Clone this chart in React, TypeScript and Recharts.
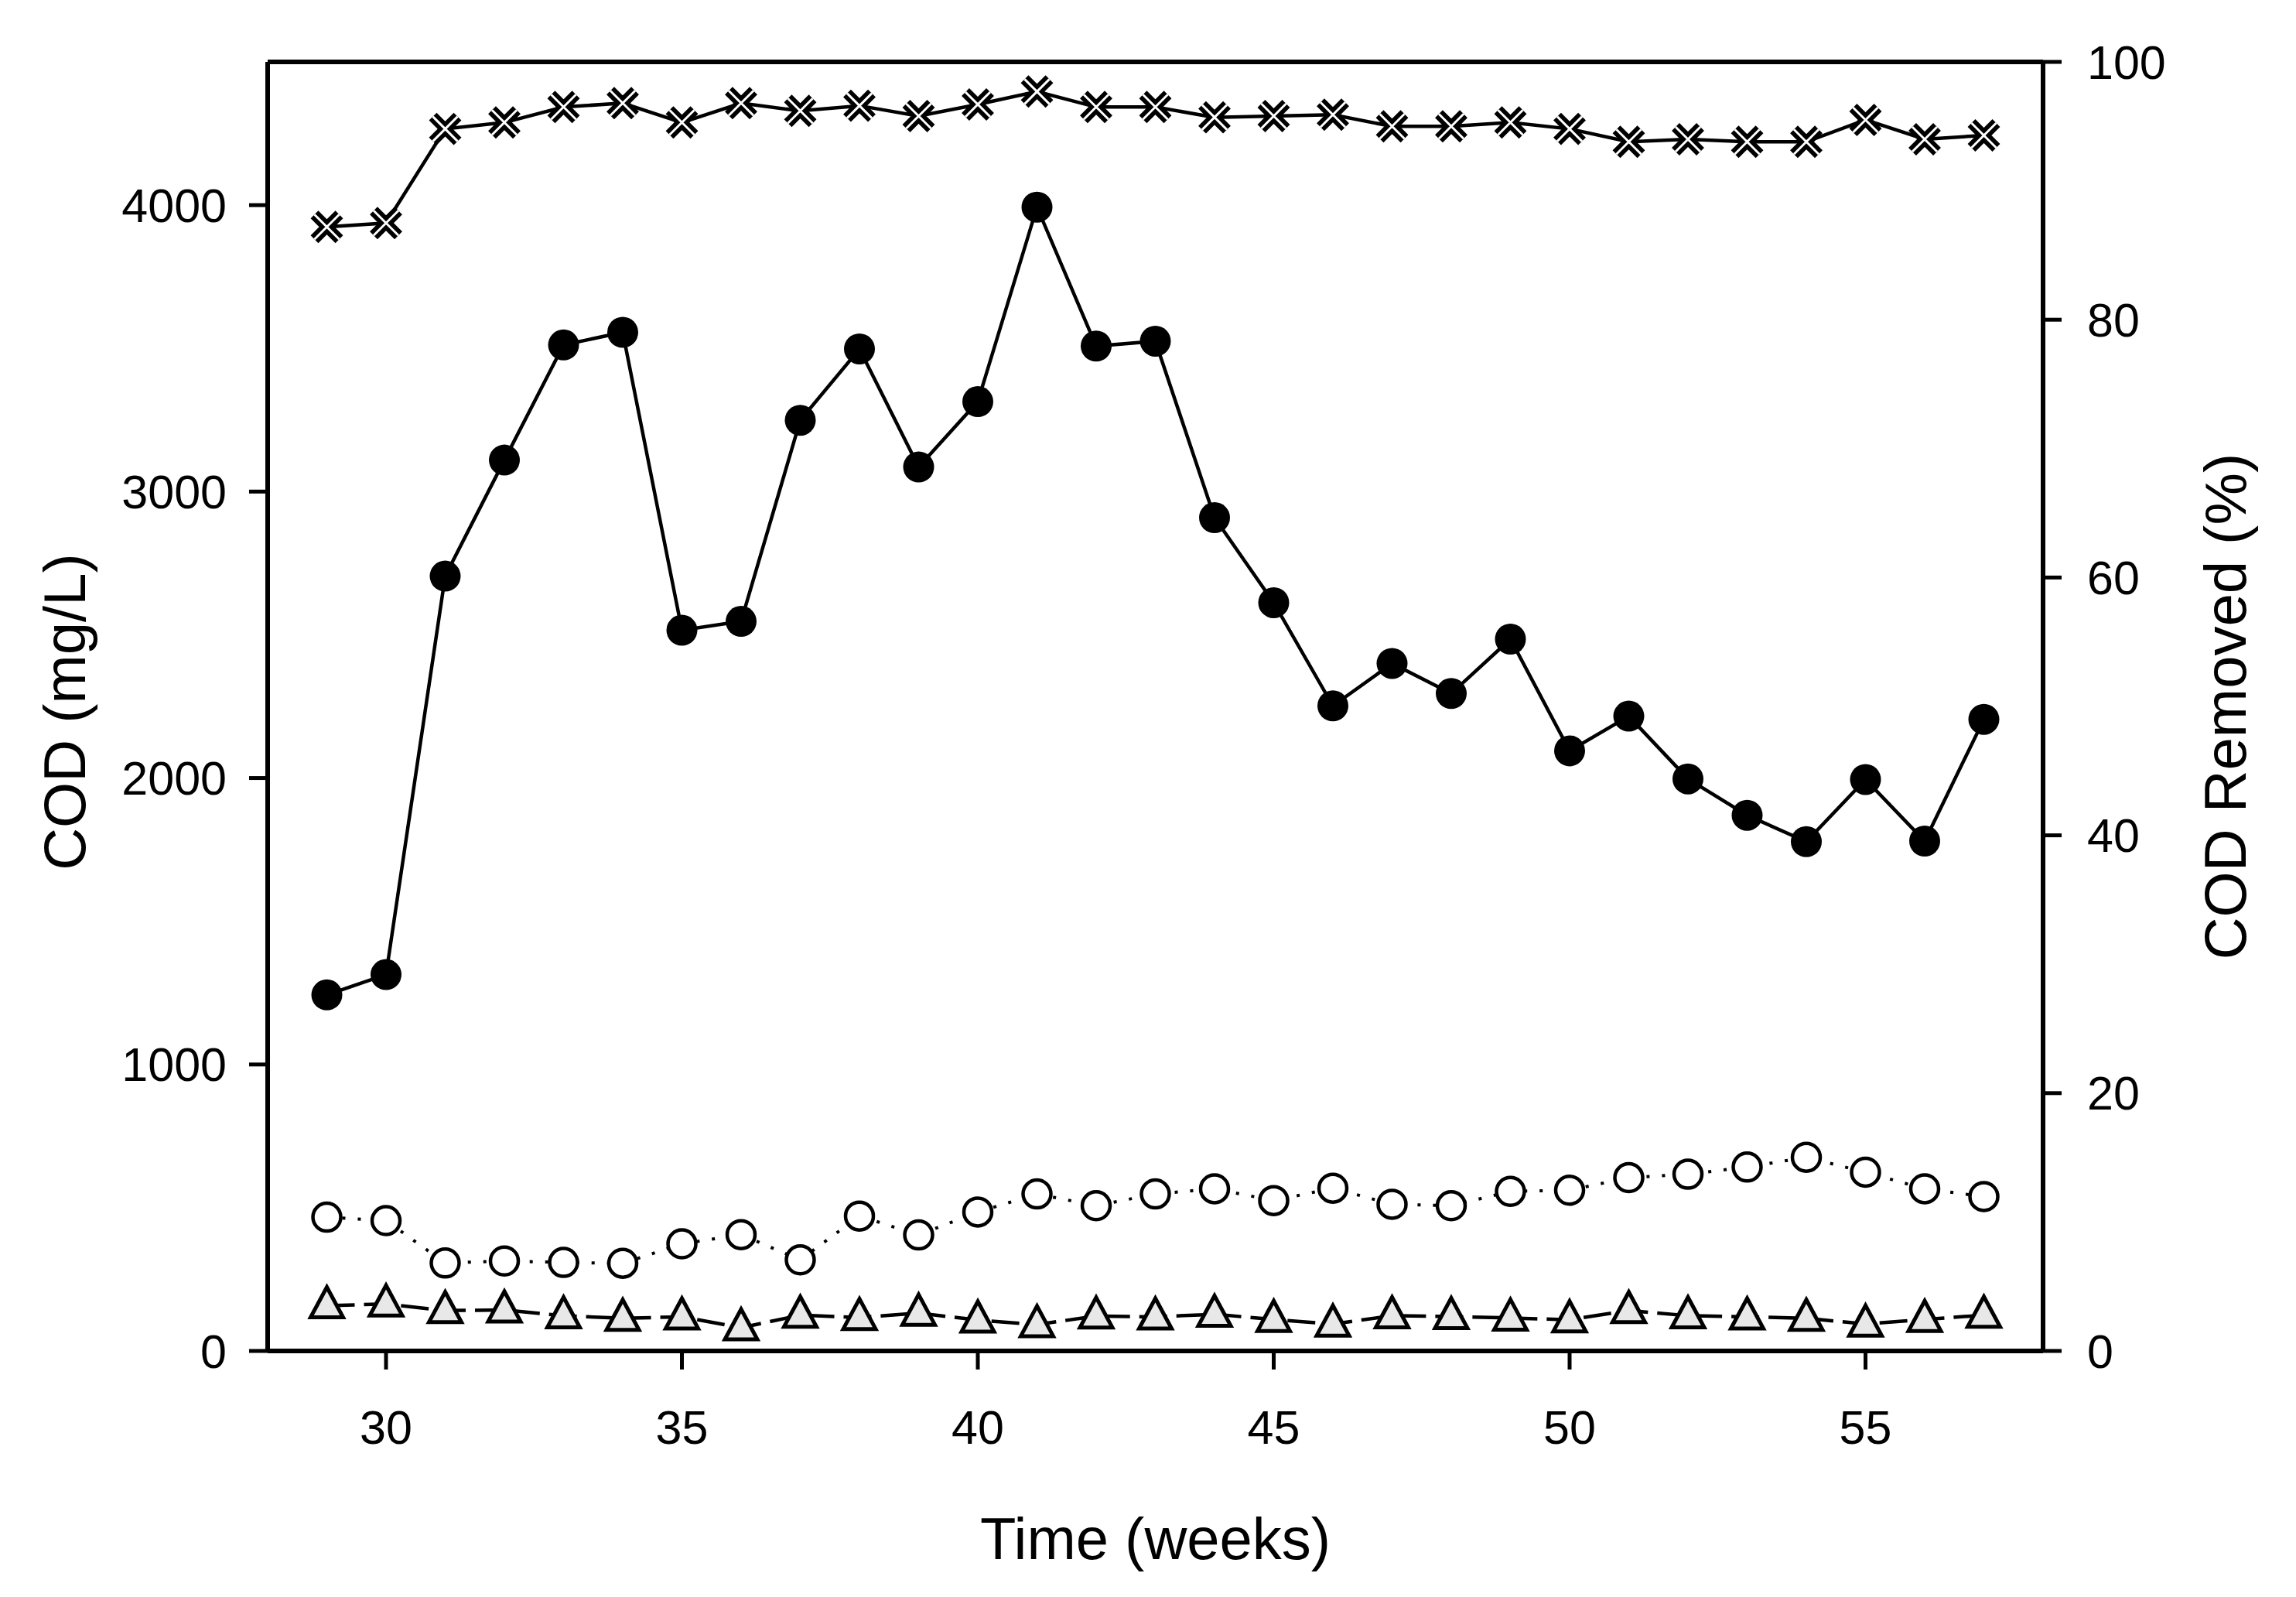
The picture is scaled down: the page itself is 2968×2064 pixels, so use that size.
import React from 'react';
import { LineChart, Line, XAxis, YAxis, ReferenceLine } from 'recharts';

// weeks on the x axis
const weeks = [29, 30, 31, 32, 33, 34, 35, 36, 37, 38, 39, 40, 41, 42, 43, 44, 45, 46, 47, 48, 49, 50, 51, 52, 53, 54, 55, 56, 57];

// COD (mg/L), left axis
const codIn = [1243, 1314, 2705, 3110, 3512, 3556, 2516, 2547, 3249, 3498, 3086, 3314, 3993, 3508, 3525, 2909, 2612, 2252, 2400, 2295, 2485, 2095, 2216, 1997, 1870, 1778, 1995, 1780, 2205];
const codOutA = [467, 455, 307, 314, 309, 306, 374, 406, 318, 471, 405, 485, 548, 507, 548, 566, 525, 568, 512, 507, 557, 561, 605, 617, 642, 676, 624, 566, 539];
const codOutB = [158, 164, 141, 143, 123, 114, 119, 81, 125, 117, 132, 108, 92, 122, 119, 128, 110, 94, 123, 120, 115, 109, 141, 123, 119, 114, 94, 110, 125];

// COD removed (%), right axis
const removed = [87.2, 87.5, 94.8, 95.3, 96.5, 96.8, 95.3, 96.8, 96.2, 96.6, 95.8, 96.7, 97.7, 96.5, 96.5, 95.7, 95.8, 95.9, 95.0, 95.0, 95.3, 94.8, 93.8, 94.0, 93.8, 93.8, 95.5, 94.0, 94.3];

const xTicks = [30, 35, 40, 45, 50, 55];
const leftTicks = [0, 1000, 2000, 3000, 4000];
const rightTicks = [0, 20, 40, 60, 80, 100];

const data = weeks.map((w, i) => ({
  week: w,
  codIn: codIn[i],
  codOutA: codOutA[i],
  codOutB: codOutB[i],
  removed: removed[i],
}));

const FONT = '"Liberation Sans", Arial, Helvetica, sans-serif';
const tickStyle = { fontFamily: FONT, fontSize: 61, fill: '#000' };
const axisLine = { stroke: '#000', strokeWidth: 6 };
const tickLine = { stroke: '#000', strokeWidth: 5 };

const FilledDot = (p: any) => (
  <circle key={`f-${p.index}`} cx={p.cx} cy={p.cy} r={20} fill="#000" stroke="none" />
);

const OpenDot = (p: any) => (
  <circle key={`o-${p.index}`} cx={p.cx} cy={p.cy} r={18} fill="#fff" stroke="#000" strokeWidth={4.5} />
);

const TriDot = (p: any) => {
  const { cx, cy } = p;
  const d = `M${cx},${cy - 24}L${cx + 21},${cy + 15}L${cx - 21},${cy + 15}Z`;
  return <path key={`t-${p.index}`} d={d} fill="#e8e8e8" stroke="#000" strokeWidth={5} strokeLinejoin="miter" />;
};

const CrossDot = (p: any) => {
  const { cx, cy } = p;
  const s = 16;
  const d = `M${cx - s},${cy - s}L${cx + s},${cy + s}M${cx - s},${cy + s}L${cx + s},${cy - s}`;
  return (
    <g key={`x-${p.index}`}>
      <path d={d} stroke="#000" strokeWidth={14} fill="none" />
      <path d={d} stroke="#fff" strokeWidth={3} fill="none" />
    </g>
  );
};

const XTitle = (props: any) => {
  const vb = props.viewBox;
  return (
    <text x={vb.x + vb.width / 2} y={vb.y + 269} textAnchor="middle" fontFamily={FONT} fontSize={76} fill="#000">
      Time (weeks)
    </text>
  );
};

const LeftTitle = (props: any) => {
  const vb = props.viewBox;
  const x = vb.x + 64;
  const y = vb.y + vb.height / 2 + 7;
  return (
    <text x={x} y={y} transform={`rotate(-90, ${x}, ${y})`} textAnchor="middle" fontFamily={FONT} fontSize={76} fill="#000">
      COD (mg/L)
    </text>
  );
};

const RightTitle = (props: any) => {
  const vb = props.viewBox;
  const x = vb.x + 262;
  const y = vb.y + vb.height / 2;
  return (
    <text x={x} y={y} transform={`rotate(-90, ${x}, ${y})`} textAnchor="middle" fontFamily={FONT} fontSize={76} fill="#000">
      COD Removed (%)
    </text>
  );
};

export default function App() {
  return (
    <div style={{ position: 'absolute', left: 0, top: 0, width: 2968, height: 2064, background: '#fff' }}>
      <LineChart width={2968} height={2064} data={data} margin={{ top: 80, right: 27, bottom: 68, left: 46 }}>
        <XAxis
          dataKey="week"
          type="number"
          domain={[28, 58]}
          ticks={xTicks}
          height={250}
          tickSize={24}
          tickMargin={53}
          tick={tickStyle}
          axisLine={axisLine}
          tickLine={tickLine}
          label={XTitle}
        />
        <YAxis
          yAxisId="left"
          domain={[0, 4500]}
          ticks={leftTicks}
          width={300}
          tickSize={24}
          tickMargin={29}
          tick={tickStyle}
          axisLine={axisLine}
          tickLine={tickLine}
          label={LeftTitle}
        />
        <YAxis
          yAxisId="right"
          orientation="right"
          domain={[0, 100]}
          ticks={rightTicks}
          width={300}
          tickSize={24}
          tickMargin={33}
          tick={tickStyle}
          axisLine={axisLine}
          tickLine={tickLine}
          label={RightTitle}
        />
        <ReferenceLine yAxisId="left" y={4500} stroke="#000" strokeWidth={6} />
        <Line
          yAxisId="left"
          type="linear"
          dataKey="codOutB"
          stroke="#000"
          strokeWidth={4.5}
          strokeDasharray="36 12"
          dot={TriDot}
          activeDot={false}
          isAnimationActive={false}
        />
        <Line
          yAxisId="left"
          type="linear"
          dataKey="codOutA"
          stroke="#000"
          strokeWidth={4}
          strokeDasharray="4 16"
          dot={OpenDot}
          activeDot={false}
          isAnimationActive={false}
        />
        <Line
          yAxisId="left"
          type="linear"
          dataKey="codIn"
          stroke="#000"
          strokeWidth={4.5}
          dot={FilledDot}
          activeDot={false}
          isAnimationActive={false}
        />
        <Line
          yAxisId="right"
          type="linear"
          dataKey="removed"
          stroke="#000"
          strokeWidth={4.5}
          dot={CrossDot}
          activeDot={false}
          isAnimationActive={false}
        />
      </LineChart>
    </div>
  );
}
